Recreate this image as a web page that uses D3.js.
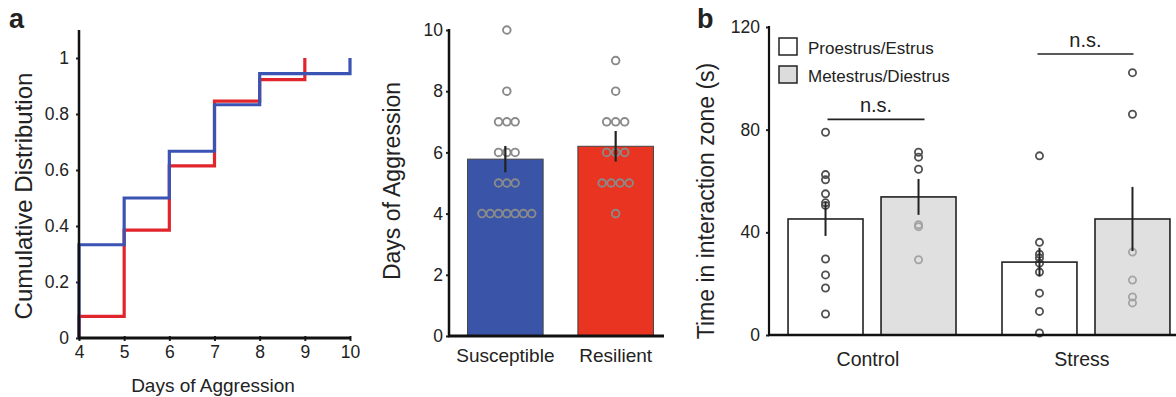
<!DOCTYPE html>
<html>
<head>
<meta charset="utf-8">
<script src="https://cdn.jsdelivr.net/npm/d3@7"></script>
<style>
  body { margin: 0; background: #fff; }
  svg { display: block; font-family: "Liberation Sans", Arial, sans-serif; }
</style>
</head>
<body>
<div id="chart"></div>
<script>
// ---- panel a (left): cumulative distribution ----
const cdfDays = [4, 5, 6, 7, 8, 9, 10];
const cdfSusceptible = [0.333, 0.5, 0.667, 0.833, 0.944, 0.944, 1.0];
const cdfResilient = [0.077, 0.385, 0.615, 0.846, 0.923, 1.0];

// ---- panel a (right): days of aggression ----
const groupsA = ['Susceptible', 'Resilient'];
const meansA = [5.78, 6.2];
const semA = [0.43, 0.5];
const dotsSusceptible = [4, 4, 4, 4, 4, 4, 4, 5, 5, 5, 6, 6, 6, 7, 7, 7, 8, 10];
const dotsResilient = [4, 5, 5, 5, 5, 6, 6, 6, 7, 7, 7, 8, 9];

// ---- panel b: time in interaction zone ----
const groupsB = ['Control', 'Stress'];
const phases = ['Proestrus/Estrus', 'Metestrus/Diestrus'];
const meansB = [[45.2, 53.8], [28.4, 45.2]];
const semB = [[6.6, 7.0], [5.6, 12.5]];
const dotsB = [
  [[79, 62.5, 60.5, 55, 51.5, 50.5, 29.6, 23.4, 18.3, 8.2], [71.2, 69.3, 64.6, 43, 42.2, 29.3]],
  [[69.8, 36.1, 31.5, 30, 28, 24.5, 16.3, 9.2, 0.8], [102.2, 86, 32.3, 21.4, 14.8, 12.5]]
];
const sigY = [84, 109.5];

const width = 1176, height = 397;
const ink = '#222';
const blue = '#3b54b3', red = '#e1252d';
const tickFont = 17.5;

const svg = d3.select('#chart').append('svg')
  .attr('width', width)
  .attr('height', height);

function styleAxis(g) {
  g.select('.domain').remove();
  g.selectAll('.tick line').attr('stroke', ink).attr('stroke-width', 2);
  g.selectAll('.tick text').attr('fill', ink).attr('font-size', tickFont);
}

// ================= panel a, CDF =================
const xCdf = d3.scaleLinear().domain([4, 10]).range([79, 350]);
const yCdf = d3.scaleLinear().domain([0, 1.1]).range([338, 30]);
const gA = svg.append('g');

gA.append('text').attr('x', 9).attr('y', 28)
  .attr('font-size', 27).attr('font-weight', 'bold').attr('fill', ink).text('a');

const yAxA = gA.append('g').attr('transform', `translate(${xCdf(4)},0)`)
  .call(d3.axisLeft(yCdf).tickValues([0, 0.2, 0.4, 0.6, 0.8, 1]).tickSize(3).tickPadding(7)
    .tickFormat(d => d === 0 ? '0' : d === 1 ? '1' : d3.format('.1f')(d)));
styleAxis(yAxA);
const xAxA = gA.append('g').attr('transform', `translate(0,${yCdf(0)})`)
  .call(d3.axisBottom(xCdf).tickValues(cdfDays).tickSize(3).tickPadding(5).tickFormat(d3.format('d')));
styleAxis(xAxA);
xAxA.selectAll('.tick line').attr('y1', -2);

const stepLine = d3.line().x(d => xCdf(d[0])).y(d => yCdf(d[1])).curve(d3.curveStepAfter);
const redPts = [[4, 0]].concat(cdfResilient.map((v, i) => [cdfDays[i], v]));
const bluePts = [[4, 0]].concat(cdfSusceptible.map((v, i) => [cdfDays[i], v]));
gA.append('path').attr('d', stepLine(redPts)).attr('fill', 'none')
  .attr('stroke', red).attr('stroke-width', 3.2);
gA.append('path').attr('d', stepLine(bluePts)).attr('fill', 'none')
  .attr('stroke', blue).attr('stroke-width', 3.2);

gA.append('line').attr('x1', xCdf(4)).attr('x2', xCdf(4))
  .attr('y1', yCdf(1.1)).attr('y2', yCdf(0) + 1).attr('stroke', '#111').attr('stroke-width', 2.5);
gA.append('line').attr('x1', xCdf(4) - 1).attr('x2', xCdf(10) + 1)
  .attr('y1', yCdf(0)).attr('y2', yCdf(0)).attr('stroke', '#111').attr('stroke-width', 3);

gA.append('text').attr('x', 213).attr('y', 392).attr('text-anchor', 'middle')
  .attr('font-size', 19).attr('fill', ink).text('Days of Aggression');
gA.append('text').attr('transform', 'translate(32,196) rotate(-90)').attr('text-anchor', 'middle')
  .attr('font-size', 24).attr('fill', ink).text('Cumulative Distribution');

// ================= panel a, bars =================
const xBar = d3.scaleBand().domain(groupsA).range([451, 670]).paddingInner(0.315).paddingOuter(0.15);
const yBar = d3.scaleLinear().domain([0, 10]).range([336, 30]);
const gM = svg.append('g');

const yAxM = gM.append('g').attr('transform', 'translate(449,0)')
  .call(d3.axisLeft(yBar).tickValues([0, 2, 4, 6, 8, 10]).tickSize(3).tickPadding(3));
styleAxis(yAxM);

gM.selectAll('rect.bar').data(groupsA).join('rect').attr('class', 'bar')
  .attr('x', d => xBar(d)).attr('width', xBar.bandwidth())
  .attr('y', (d, i) => yBar(meansA[i])).attr('height', (d, i) => yBar(0) - yBar(meansA[i]))
  .attr('fill', (d, i) => i === 0 ? '#3a55a7' : '#e83421')
  .attr('stroke', '#444').attr('stroke-width', 1);

[dotsSusceptible, dotsResilient].forEach((dots, gi) => {
  const cx = xBar(groupsA[gi]) + xBar.bandwidth() / 2 + (gi === 0 ? 1.5 : 0);
  const sp = gi === 0 ? 8.3 : 9;
  const byVal = d3.group(dots, d => d);
  byVal.forEach((vals, v) => {
    vals.forEach((_, k) => {
      gM.append('circle')
        .attr('cx', cx + (k - (vals.length - 1) / 2) * sp)
        .attr('cy', yBar(v)).attr('r', 3.8)
        .attr('fill', 'none').attr('stroke', '#8a8a8a').attr('stroke-width', 1.9);
    });
  });
});

gM.selectAll('line.err').data(groupsA).join('line').attr('class', 'err')
  .attr('x1', d => xBar(d) + xBar.bandwidth() / 2).attr('x2', d => xBar(d) + xBar.bandwidth() / 2)
  .attr('y1', (d, i) => yBar(meansA[i] + semA[i])).attr('y2', (d, i) => yBar(meansA[i] - semA[i]))
  .attr('stroke', '#222').attr('stroke-width', 2.2);

gM.append('line').attr('x1', 449).attr('x2', 449).attr('y1', yBar(10) - 1).attr('y2', yBar(0) + 1)
  .attr('stroke', '#111').attr('stroke-width', 2.5);
gM.append('line').attr('x1', 448).attr('x2', 664).attr('y1', yBar(0)).attr('y2', yBar(0))
  .attr('stroke', '#111').attr('stroke-width', 3);

gM.selectAll('text.cat').data(groupsA).join('text').attr('class', 'cat')
  .attr('x', d => xBar(d) + xBar.bandwidth() / 2).attr('y', 362).attr('text-anchor', 'middle')
  .attr('font-size', 19).attr('fill', ink).text(d => d);
gM.append('text').attr('transform', 'translate(400,181) rotate(-90)').attr('text-anchor', 'middle')
  .attr('font-size', 23).attr('fill', ink).text('Days of Aggression');

// ================= panel b =================
const xGroup = d3.scaleBand().domain(groupsB).range([769, 1189]).paddingInner(0.215).paddingOuter(0.089);
const xPhase = d3.scaleBand().domain(phases).range([0, xGroup.bandwidth()]).paddingInner(0.194);
const yB = d3.scaleLinear().domain([0, 120]).range([335, 27]);
const gB = svg.append('g');

gB.append('text').attr('x', 697).attr('y', 28)
  .attr('font-size', 27).attr('font-weight', 'bold').attr('fill', ink).text('b');

const yAxB = gB.append('g').attr('transform', 'translate(769,0)')
  .call(d3.axisLeft(yB).tickValues([0, 40, 80, 120]).tickSize(3).tickPadding(6));
styleAxis(yAxB);

const cells = [];
groupsB.forEach((g, gi) => phases.forEach((p, pi) => cells.push({ g, p, gi, pi })));
const cx = d => xGroup(d.g) + xPhase(d.p) + xPhase.bandwidth() / 2;

// white bars, then dots, then the grey bars (translucent, dimming the dots behind)
gB.selectAll('rect.pe').data(cells.filter(d => d.pi === 0)).join('rect').attr('class', 'pe')
  .attr('x', d => xGroup(d.g) + xPhase(d.p)).attr('width', xPhase.bandwidth())
  .attr('y', d => yB(meansB[d.gi][d.pi])).attr('height', d => yB(0) - yB(meansB[d.gi][d.pi]))
  .attr('fill', '#fff');

cells.forEach(d => {
  dotsB[d.gi][d.pi].forEach(v => {
    gB.append('circle').attr('cx', cx(d)).attr('cy', yB(v)).attr('r', 3.6)
      .attr('fill', 'none').attr('stroke', '#505050').attr('stroke-width', 1.8);
  });
});

gB.selectAll('rect.md').data(cells.filter(d => d.pi === 1)).join('rect').attr('class', 'md')
  .attr('x', d => xGroup(d.g) + xPhase(d.p)).attr('width', xPhase.bandwidth())
  .attr('y', d => yB(meansB[d.gi][d.pi])).attr('height', d => yB(0) - yB(meansB[d.gi][d.pi]))
  .attr('fill', '#cfcfcf').attr('fill-opacity', 0.65);

gB.selectAll('rect.outline').data(cells).join('rect').attr('class', 'outline')
  .attr('x', d => xGroup(d.g) + xPhase(d.p)).attr('width', xPhase.bandwidth())
  .attr('y', d => yB(meansB[d.gi][d.pi])).attr('height', d => yB(0) - yB(meansB[d.gi][d.pi]))
  .attr('fill', 'none').attr('stroke', '#222').attr('stroke-width', 1.6);

gB.selectAll('line.err').data(cells).join('line').attr('class', 'err')
  .attr('x1', cx).attr('x2', cx)
  .attr('y1', d => yB(meansB[d.gi][d.pi] + semB[d.gi][d.pi]))
  .attr('y2', d => yB(meansB[d.gi][d.pi] - semB[d.gi][d.pi]))
  .attr('stroke', '#222').attr('stroke-width', 2);

// significance brackets
groupsB.forEach((g, gi) => {
  const x1 = cx({ g, p: phases[0] }) + (gi === 0 ? 2 : -2);
  const x2 = cx({ g, p: phases[1] }) + (gi === 0 ? 6 : 1);
  gB.append('line').attr('x1', x1).attr('x2', x2).attr('y1', yB(sigY[gi])).attr('y2', yB(sigY[gi]))
    .attr('stroke', '#222').attr('stroke-width', 1.6);
  gB.append('text').attr('x', (x1 + x2) / 2).attr('y', yB(sigY[gi]) - 7).attr('text-anchor', 'middle')
    .attr('font-size', 20).attr('fill', ink).text('n.s.');
});

gB.append('line').attr('x1', 769).attr('x2', 769).attr('y1', yB(120) - 1).attr('y2', yB(0) + 1)
  .attr('stroke', '#111').attr('stroke-width', 2.2);
gB.append('line').attr('x1', 768).attr('x2', width).attr('y1', yB(0)).attr('y2', yB(0))
  .attr('stroke', '#111').attr('stroke-width', 2.5);

gB.selectAll('text.cat').data(groupsB).join('text').attr('class', 'cat')
  .attr('x', d => xGroup(d) + xGroup.bandwidth() / 2 - 4).attr('y', 366).attr('text-anchor', 'middle')
  .attr('font-size', 19.5).attr('fill', ink).text(d => d);
gB.append('text').attr('transform', 'translate(714,201) rotate(-90)').attr('text-anchor', 'middle')
  .attr('font-size', 23).attr('fill', ink).text('Time in interaction zone (s)');

// legend
const legend = gB.append('g').attr('transform', 'translate(779,38)');
phases.forEach((p, i) => {
  legend.append('rect').attr('x', 0).attr('y', i * 28).attr('width', 18).attr('height', 17)
    .attr('fill', i === 0 ? '#fff' : '#dcdcdc').attr('stroke', '#222').attr('stroke-width', 1.5);
  legend.append('text').attr('x', 29).attr('y', i * 28 + 16)
    .attr('font-size', 17).attr('fill', ink).text(p);
});
</script>
</body>
</html>
